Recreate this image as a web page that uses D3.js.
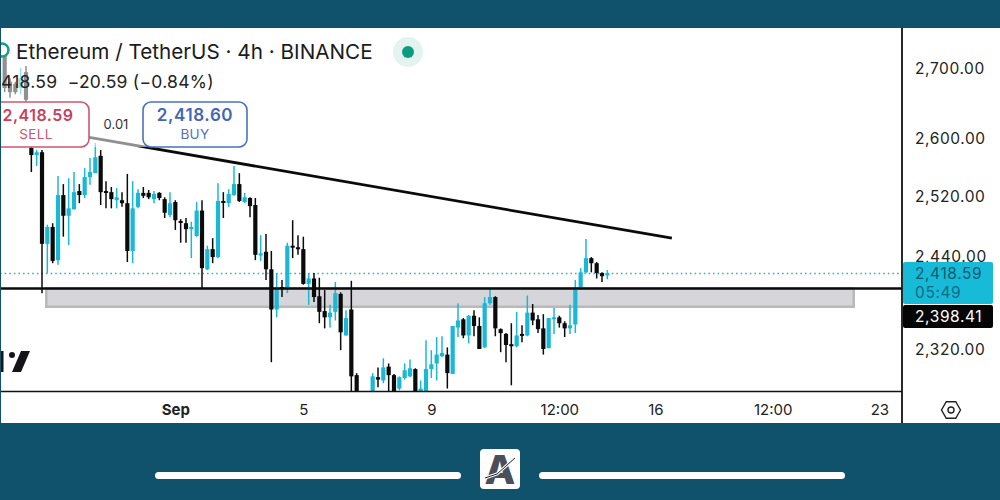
<!DOCTYPE html>
<html><head><meta charset="utf-8">
<script src="https://cdnjs.cloudflare.com/ajax/libs/d3/7.8.5/d3.min.js"></script>
<style>html,body{margin:0;padding:0;background:#fff}svg{display:block}text{font-family:Inter,Roboto,sans-serif}</style>
</head><body><svg id="c" width="1000" height="500"></svg>
<script>
const firstIndex=-7;
const opens=[2726,2680,2677,2671,2694,2586,2576,
2580,2455.5,2478,2434,2521,2493,2502,2526.5,2521,2545.6,
2551,2575,2526.5,2525,2514,2514,2510,2446,2505,2524,
2524,2515.5,2524,2515.5,2494,2511.5,2486,2483,2475,2466,
2500,2422,2448.5,2438,2513,2510,2521,2536,2511.5,2517,
2507.5,2440,2445,2422,2370,2399,2397.4,2453,2451,2448.5,
2403,2410,2387,2368,2360,2367,2390,2337,2370,2287.5,
2255,2245,2260,2285,2281,2298,2287.5,2271,2284,2286,
2295,2262,2260,2295,2302,2311,2313,2289,2347,2357.5,
2337,2362,2349,2322,2378,2386,2345,2339,2326,2323.5,
2339,2337,2366,2357.5,2346,2321,2357.5,2360,2352.5,2346,
2351,2397.4,2418,2436.6,2430,2417,2414];
const highs=[2733,2685,2680,2700,2703,2587,2583,
2583,2481,2483,2547,2536,2544,2552.5,2536,2558,2572,
2593,2583,2540,2532,2530.5,2525,2550,2540,2529,2532,
2528,2526.5,2525,2518,2525,2514,2488.5,2490,2485,2511.5,
2514,2453,2463,2537,2525,2529,2561,2551,2524,2518,
2517,2467,2468.5,2446,2417,2408,2457,2487,2467,2465,
2417,2417,2411,2395,2376,2405.5,2392,2369,2407,2290,
2262,2262,2290,2297,2308.4,2302,2289,2286,2302,2307,
2296,2281,2331,2318.5,2335,2336,2322,2349,2378,2359,
2363,2369,2360,2386,2397.4,2387,2346,2340,2352.5,2367,
2350,2388,2377,2363,2364,2359,2372,2362,2355,2376,
2408,2423.5,2462,2438,2431.5,2418,2421];
const lows=[2665,2657,2662,2662,2614,2552.5,2561,
2391,2417,2430,2428,2465,2454,2501,2510,2517,2535,
2551,2507.5,2503,2503,2503,2505,2431.5,2430,2503,2517,
2515.5,2510,2514,2490,2491,2474,2457,2457,2436.6,2465,
2397.4,2421,2430,2436.6,2490,2505,2520,2511.5,2510,2491,
2434,2433,2408,2303.5,2360,2386,2391,2436.6,2441,2402,
2376,2379.5,2352.5,2346,2347,2356,2318.5,2337,2255,2250,
2240,2235,2255,2272.5,2277.5,2268,2262,2269,2282,2285,
2255,2258,2255,2284,2281,2310,2271,2289,2335,2333.5,
2327,2336,2320,2321,2376,2336,2316,2303.5,2275,2322,
2328.5,2336,2350,2340,2313,2321,2339,2347,2335,2339,
2340,2396,2417,2418,2410,2405.5,2409];
const closes=[2671,2665,2665,2685,2654,2576,2580,
2455.5,2478,2433,2521,2493,2503,2525,2521,2545.6,2552.5,
2573,2525,2525,2515.5,2518,2510,2446,2503,2524,2520,
2518,2522.5,2517,2497,2510,2487,2485,2475,2478,2500,
2423.5,2448.5,2438,2513,2511.5,2522.5,2536,2513,2518,2506,
2441,2443,2422,2370,2397.4,2396,2453,2451,2448.5,2403,
2410,2386,2367,2360,2366,2391,2341,2359,2286,2255,
2245,2258,2286,2282,2297,2287.5,2268,2285,2293.5,2296,
2260,2271,2295,2301,2313,2315,2290,2349,2356,2337,
2362,2349,2320,2378,2386,2346,2340,2325,2325,2337,
2337,2366,2356,2345,2320,2359,2360,2352.5,2346,2350,
2396,2418,2436.6,2430,2417,2413,2417];
const priceTicks=[2320,2440,2520,2600,2700];
const dateTickIndex=[25,49,73,97,115,137,157];
const dateTickLabels=["Sep","5","9","12:00","16","12:00","23"];
const trendIndex=[8.6,118.1];
const trendPrice=[2601,2463];
const zonePrices=[2397,2373.5];
const zoneIndex=[0.8,152.2];
const supportPrice=2397;
const lastLinePrice=2416.5;

const UP="#19b8d6",DOWN="#0b0b0d",BAND="#10526b";
const svg=d3.select("#c");
const x=d3.scaleLinear().domain([-7,157]).range([4.67,879.33]);
const y=d3.scaleLog().domain([2320,2700]).range([349,68]);
const candles=opens.map((o,k)=>({i:firstIndex+k,o,h:highs[k],l:lows[k],c:closes[k]}));

svg.append("rect").attr("width",1000).attr("height",500).attr("fill","#fff");
svg.append("defs").append("clipPath").attr("id","plot").append("rect").attr("x",0).attr("y",28).attr("width",902).attr("height",363);
const plot=svg.append("g").attr("clip-path","url(#plot)");

plot.append("rect").attr("x",x(zoneIndex[0])).attr("y",y(zonePrices[0])).attr("width",x(zoneIndex[1])-x(zoneIndex[0])).attr("height",y(zonePrices[1])-y(zonePrices[0]))
 .attr("fill","#d5d5da").attr("stroke","#b9b9bb").attr("stroke-width",2.5);
plot.append("line").attr("x1",0).attr("x2",902).attr("y1",y(lastLinePrice)).attr("y2",y(lastLinePrice)).attr("stroke","#2fb5bf").attr("stroke-width",1.5).attr("stroke-dasharray","1.6 3");

const g=plot.selectAll("g.c").data(candles).join("g").attr("class","c");
g.append("line").attr("x1",d=>x(d.i)).attr("x2",d=>x(d.i)).attr("y1",d=>y(d.h)).attr("y2",d=>y(d.l))
 .attr("stroke",d=>d.c>=d.o?UP:DOWN).attr("stroke-width",1.5);
g.append("rect").attr("x",d=>x(d.i)-2.1).attr("width",4.2).attr("y",d=>y(Math.max(d.o,d.c))).attr("height",d=>Math.max(2,Math.abs(y(d.o)-y(d.c))))
 .attr("fill",d=>d.c>=d.o?UP:DOWN);

plot.append("line").attr("x1",x(trendIndex[0])).attr("x2",x(trendIndex[1])).attr("y1",y(trendPrice[0])).attr("y2",y(trendPrice[1])).attr("stroke","#0a0a0a").attr("stroke-width",2.8);
plot.append("line").attr("x1",0).attr("x2",902).attr("y1",y(supportPrice)).attr("y2",y(supportPrice)).attr("stroke","#0a0a0a").attr("stroke-width",2.6);

// TradingView mark, cut by the left edge
const tv=svg.append("g").attr("fill","#14141a");
tv.append("rect").attr("x",0).attr("y",351).attr("width",3.5).attr("height",21);
tv.append("circle").attr("cx",12).attr("cy",355).attr("r",3);
tv.append("path").attr("d","M21 351H30L21 372H12Z");

// legend veil
svg.append("rect").attr("x",0).attr("y",28).attr("width",150).attr("height",119).attr("fill","#fff").attr("opacity",.55);
svg.append("circle").attr("cx",2).attr("cy",50).attr("r",6.5).attr("fill","#fff").attr("stroke","#159f8c").attr("stroke-width",2.5);
svg.append("text").attr("x",16).attr("y",59).attr("font-size",20.7).attr("fill","#1b1b20").text("Ethereum / TetherUS · 4h · BINANCE");
svg.append("circle").attr("cx",408).attr("cy",52).attr("r",15).attr("fill","#e2f3f0");
svg.append("circle").attr("cx",408).attr("cy",52).attr("r",6).attr("fill","#0b9c7f");
svg.append("text").attr("x",1).attr("y",88).attr("font-size",17.5).attr("letter-spacing",.25).style("white-space","pre").attr("fill","#222").text("418.59  −20.59 (−0.84%)");

const tagSpacing=.5;
svg.append("rect").attr("x",-8).attr("y",102).attr("width",97).attr("height",45).attr("rx",8).attr("fill","#fff").attr("stroke","#cf5570").attr("stroke-width",1.6);
svg.append("text").attr("x",38).attr("y",121).attr("text-anchor","middle").attr("font-size",16).attr("letter-spacing",tagSpacing).attr("font-weight",600).attr("fill","#c8405c").text("2,418.59");
svg.append("text").attr("x",36).attr("y",139).attr("text-anchor","middle").attr("font-size",13.5).attr("letter-spacing",.4).attr("fill","#cf5570").text("SELL");
svg.append("text").attr("x",116).attr("y",129).attr("text-anchor","middle").attr("font-size",13).attr("fill","#333").text("0.01");
svg.append("rect").attr("x",143).attr("y",102).attr("width",104).attr("height",45).attr("rx",8).attr("fill","#fff").attr("stroke","#4a72bf").attr("stroke-width",1.6);
svg.append("text").attr("x",195).attr("y",121).attr("text-anchor","middle").attr("font-size",17).attr("letter-spacing",.6).attr("font-weight",600).attr("fill","#3f66b8").text("2,418.60");
svg.append("text").attr("x",195).attr("y",139).attr("text-anchor","middle").attr("font-size",13.5).attr("letter-spacing",.4).attr("fill","#4a72bf").text("BUY");

// axes
const ya=svg.append("g").attr("transform","translate(902,1)").call(d3.axisRight(y).tickValues(priceTicks).tickSize(0).tickPadding(13).tickFormat(d3.format(",.2f")));
ya.select(".domain").remove();
ya.selectAll("text").attr("font-size",15.5).attr("letter-spacing",.6).attr("fill","#222").style("font-family","Inter,Roboto,sans-serif");
const xa=svg.append("g").attr("transform","translate(0,392)").call(d3.axisBottom(x).tickValues(dateTickIndex).tickSize(0).tickPadding(12).tickFormat((d,k)=>dateTickLabels[k]));
xa.select(".domain").remove();
xa.selectAll("text").attr("font-size",15).attr("fill","#222").style("font-family","Inter,Roboto,sans-serif").attr("font-weight",(d,k)=>k==0?700:400);

svg.append("line").attr("x1",0).attr("x2",902).attr("y1",391.5).attr("y2",391.5).attr("stroke","#111").attr("stroke-width",1.6);
svg.append("line").attr("x1",902).attr("x2",902).attr("y1",28).attr("y2",423).attr("stroke","#111").attr("stroke-width",1.8);

// price tags
svg.append("rect").attr("x",903).attr("y",262).attr("width",90).attr("height",42).attr("rx",2).attr("fill","#17bbd7");
svg.append("text").attr("x",915).attr("y",279).attr("font-size",15.5).attr("letter-spacing",.6).attr("fill","#0e5a72").text("2,418.59");
svg.append("text").attr("x",915).attr("y",298).attr("font-size",15.5).attr("letter-spacing",.6).attr("fill","#0e6a85").text("05:49");
svg.append("rect").attr("x",903).attr("y",305).attr("width",90).attr("height",23).attr("rx",2).attr("fill","#050505");
svg.append("text").attr("x",915).attr("y",322).attr("font-size",15.5).attr("letter-spacing",.6).attr("fill","#fff").text("2,398.41");

// settings icon
const hexPts=d3.range(6).map(k=>{const a=Math.PI/3*k;return [951+9.5*Math.cos(a),410+9.5*Math.sin(a)];});
svg.append("path").attr("d",d3.line()(hexPts)+"Z").attr("fill","none").attr("stroke","#222").attr("stroke-width",1.4);
svg.append("circle").attr("cx",951).attr("cy",410).attr("r",3).attr("fill","none").attr("stroke","#222").attr("stroke-width",1.4);

// page frame
svg.append("rect").attr("width",1000).attr("height",28).attr("fill",BAND);
svg.append("rect").attr("y",423).attr("width",1000).attr("height",77).attr("fill",BAND);
svg.append("rect").attr("x",0).attr("y",28).attr("width",1).attr("height",395).attr("fill",BAND);
svg.append("rect").attr("x",155).attr("y",472).attr("width",306).attr("height",7).attr("rx",3.5).attr("fill","#fff");
svg.append("rect").attr("x",539).attr("y",472).attr("width",306).attr("height",7).attr("rx",3.5).attr("fill","#fff");
svg.append("rect").attr("x",480).attr("y",449).attr("width",40).attr("height",40).attr("rx",4).attr("fill","#fff");
svg.append("text").attr("x",500).attr("y",484).attr("text-anchor","middle").attr("font-size",40).attr("font-weight",800).attr("fill","#4a4f5c").text("A");
svg.append("path").attr("d","M485 478L497 474L515 458").attr("fill","none").attr("stroke","#fff").attr("stroke-width",3);
svg.append("path").attr("d","M485 478L497 474L515 458").attr("fill","none").attr("stroke","#222").attr("stroke-width",1);
</script></body></html>
